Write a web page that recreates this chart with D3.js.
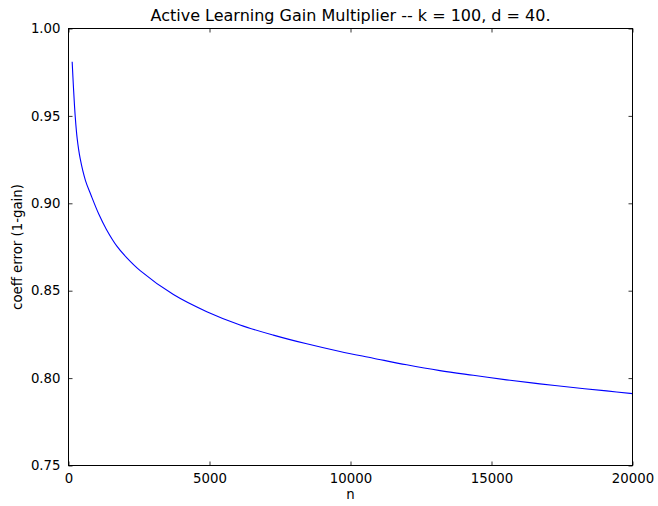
<!DOCTYPE html>
<html>
<head>
<meta charset="utf-8">
<script src="https://cdn.jsdelivr.net/npm/d3@7"></script>
<style>
  html, body { margin: 0; padding: 0; background: #fff; }
  svg { display: block; font-family: "DejaVu Sans", sans-serif; }
</style>
</head>
<body>
<div id="chart"></div>
<script>
// values
const nValues = [130, 177, 237, 308, 415, 602, 800, 1077, 1340, 1715, 2070, 2541, 3721, 4904, 6084, 7264, 8448, 9628, 10808, 11992, 13172, 14352, 15535, 16715, 17895, 19079, 20000]
const errValues = [0.981, 0.966, 0.950, 0.937, 0.9255, 0.913, 0.9046, 0.8937, 0.8852, 0.8755, 0.8688, 0.8615, 0.8478, 0.8380, 0.8304, 0.8246, 0.8196, 0.8152, 0.8114, 0.8076, 0.8043, 0.8016, 0.7990, 0.7967, 0.7946, 0.7927, 0.7911]
const xTicks = [0, 5000, 10000, 15000, 20000]
const yTicks = [0.75, 0.80, 0.85, 0.90, 0.95, 1.00]

const WIDTH = 658, HEIGHT = 506
const MARGIN = {left: 68.5, right: 658 - 632.5, top: 28.5, bottom: 506 - 465.5}

const points = nValues.map((n, i) => ({n: n, v: errValues[i]}))

const svg = d3.select("#chart").append("svg")
  .attr("width", WIDTH).attr("height", HEIGHT)

const x = d3.scaleLinear().domain([0, 20000]).range([MARGIN.left, WIDTH - MARGIN.right])
const y = d3.scaleLinear().domain([0.75, 1.0]).range([HEIGHT - MARGIN.bottom, MARGIN.top])

// curve
svg.append("path")
  .datum(points)
  .attr("fill", "none")
  .attr("stroke", "#0000ff")
  .attr("stroke-width", 1.1)
  .attr("d", d3.line().x(d => x(d.n)).y(d => y(d.v)).curve(d3.curveCatmullRom.alpha(0.5)))

// axes, ticks pointing inward like matplotlib classic
function styleAxis(g) {
  g.select(".domain").remove()
  g.selectAll(".tick line").attr("stroke", "#000").attr("stroke-width", 0.8)
  g.selectAll(".tick text").attr("fill", "#000").style("font-size", "13.3px")
    .style("font-family", "'DejaVu Sans', sans-serif")
}

svg.append("g")
  .attr("transform", `translate(0,${HEIGHT - MARGIN.bottom})`)
  .call(d3.axisBottom(x).tickValues(xTicks).tickFormat(d3.format("d")).tickSizeInner(-4).tickPadding(8))
  .call(styleAxis)

svg.append("g")
  .attr("transform", `translate(0,${MARGIN.top})`)
  .call(d3.axisTop(x).tickValues(xTicks).tickSizeInner(-4).tickFormat(""))
  .call(styleAxis)

svg.append("g")
  .attr("transform", `translate(${MARGIN.left},0)`)
  .call(d3.axisLeft(y).tickValues(yTicks).tickFormat(d3.format(".2f")).tickSizeInner(-4).tickPadding(8))
  .call(styleAxis)

svg.append("g")
  .attr("transform", `translate(${WIDTH - MARGIN.right},0)`)
  .call(d3.axisRight(y).tickValues(yTicks).tickSizeInner(-4).tickFormat(""))
  .call(styleAxis)

// frame
svg.append("rect")
  .attr("x", MARGIN.left).attr("y", MARGIN.top)
  .attr("width", WIDTH - MARGIN.left - MARGIN.right)
  .attr("height", HEIGHT - MARGIN.top - MARGIN.bottom)
  .attr("fill", "none").attr("stroke", "#000").attr("stroke-width", 1)

// texts
svg.append("text")
  .text("Active Learning Gain Multiplier -- k = 100, d = 40.")
  .attr("x", (MARGIN.left + WIDTH - MARGIN.right) / 2).attr("y", 21)
  .attr("text-anchor", "middle")
  .style("font-size", "16px")

svg.append("text")
  .text("n")
  .attr("x", (MARGIN.left + WIDTH - MARGIN.right) / 2).attr("y", 499)
  .attr("text-anchor", "middle")
  .style("font-size", "13.3px")

svg.append("text")
  .text("coeff error (1-gain)")
  .attr("transform", `translate(22,${(MARGIN.top + HEIGHT - MARGIN.bottom) / 2}) rotate(-90)`)
  .attr("text-anchor", "middle")
  .style("font-size", "13.3px")
</script>
</body>
</html>
